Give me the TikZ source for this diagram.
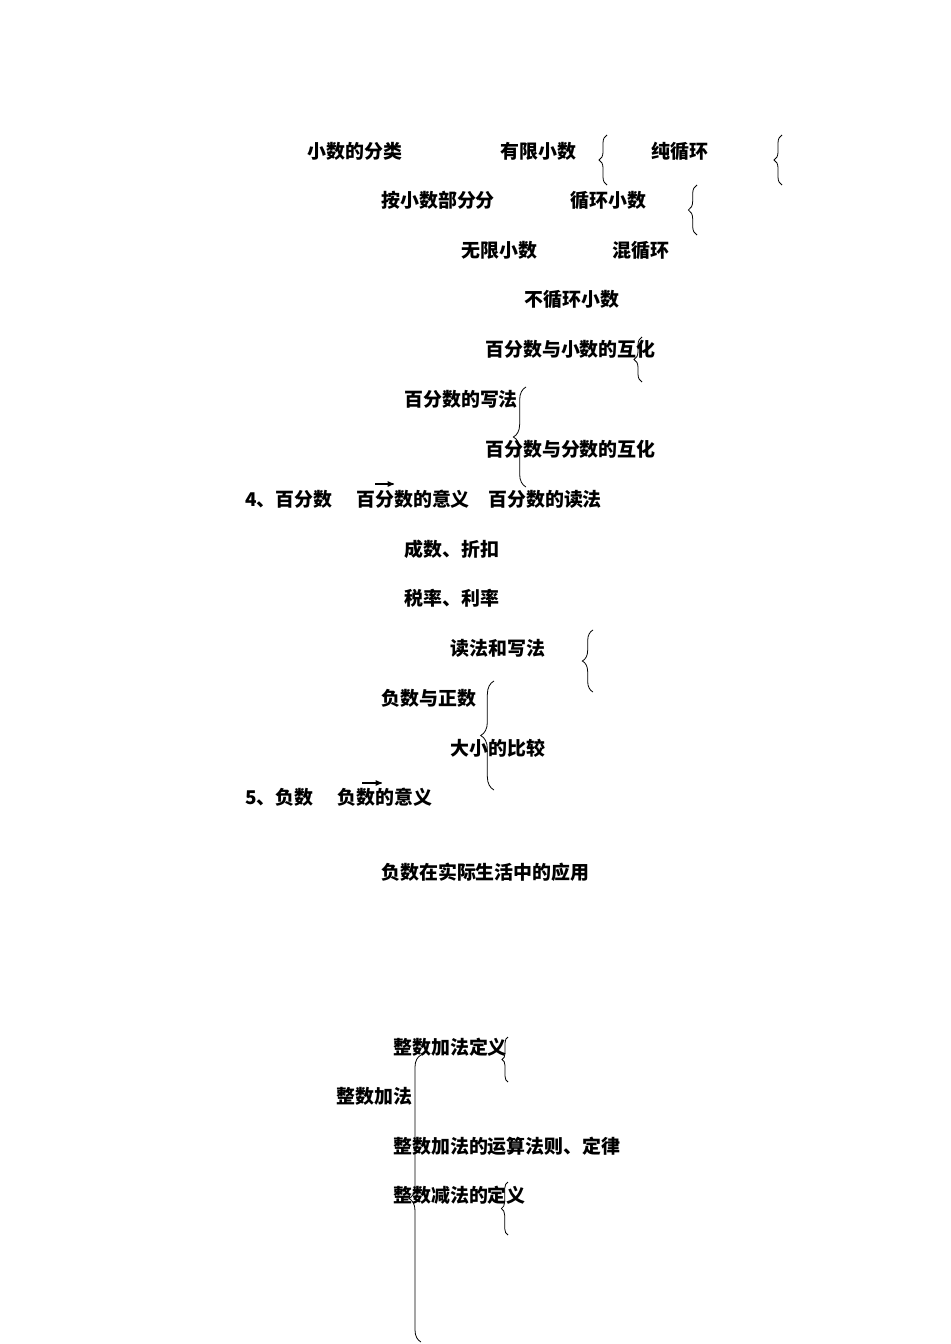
\documentclass[tikz,border=0pt]{standalone}
\usepackage{fontspec}
\setmainfont{Noto Sans CJK SC}
\usetikzlibrary{arrows,decorations.pathreplacing}

\begin{document}
\begin{tikzpicture}[>=stealth', x=0.75pt, y=-0.75pt,
    item/.style={anchor=west, inner sep=0pt, font=\fontsize{14.2pt}{16pt}\selectfont\bfseries},
    brc/.style={decorate, decoration={brace, amplitude=#1}, line width=0.6pt}]
    \useasboundingbox (0,0) rectangle (950,1344);

    % Nodes {decimals}
    \node [item] (cls)   at (307,151) {小数的分类};
    \node [item] (fin)   at (500,151) {有限小数};
    \node [item] (pure)  at (651,151) {纯循环};
    \node [item] (part)  at (381,200) {按小数部分分};
    \node [item] (rep)   at (570,200) {循环小数};
    \node [item] (inf)   at (461,250) {无限小数};
    \node [item] (mixed) at (612,250) {混循环};
    \node [item] (nrep)  at (524,299) {不循环小数};

    % Nodes {percent}
    \node [item] (pdec)  at (485,349) {百分数与小数的互化};
    \node [item] (pwri)  at (404,399) {百分数的写法};
    \node [item] (pfra)  at (485,449) {百分数与分数的互化};
    \node [item] (pct)   at (245,499) {4、百分数};
    \node [item] (pmean) at (356,499) {百分数的意义};
    \node [item] (pread) at (488,499) {百分数的读法};
    \node [item] (disc)  at (404,549) {成数、折扣};
    \node [item] (tax)   at (404,598) {税率、利率};

    % Nodes {negative numbers}
    \node [item] (nrw)   at (450,648) {读法和写法};
    \node [item] (npos)  at (381,698) {负数与正数};
    \node [item] (ncmp)  at (450,748) {大小的比较};
    \node [item] (neg)   at (245,797) {5、负数};
    \node [item] (nmean) at (337,797) {负数的意义};
    \node [item] (nlife) at (381,872) {负数在实际生活中的应用};

    % Nodes {integers}
    \node [item] (adef)  at (393,1047) {整数加法定义};
    \node [item] (add)   at (336,1096) {整数加法};
    \node [item] (alaw)  at (393,1146) {整数加法的运算法则、定律};
    \node [item] (sdef)  at (393,1195) {整数减法的定义};

    % Arrows
    \coordinate (a1) at (375,484);
    \coordinate (b1) at (394,484);
    \coordinate (a2) at (362,783);
    \coordinate (b2) at (382,783);
    \draw [->, line width=0.8pt] (a1) -- (b1);
    \draw [->, line width=0.8pt] (a2) -- (b2);

    % Braces
    \draw [brc=6pt]   (607,185)  -- (607,135);
    \draw [brc=6pt]   (782,185)  -- (782,135);
    \draw [brc=6.5pt] (697,235)  -- (697,185);
    \draw [brc=6pt]   (642,382)  -- (642,337);
    \draw [brc=9.5pt] (526,487)  -- (526,387);
    \draw [brc=8pt]   (593,692)  -- (593,630);
    \draw [brc=10pt]  (494,790)  -- (494,681);
    \draw [brc=4.5pt] (508,1082) -- (508,1037);
    \draw [brc=9pt]   (421,1342) -- (421,1055);
    \draw [brc=5pt]   (508,1235) -- (508,1182);
\end{tikzpicture}
\end{document}
